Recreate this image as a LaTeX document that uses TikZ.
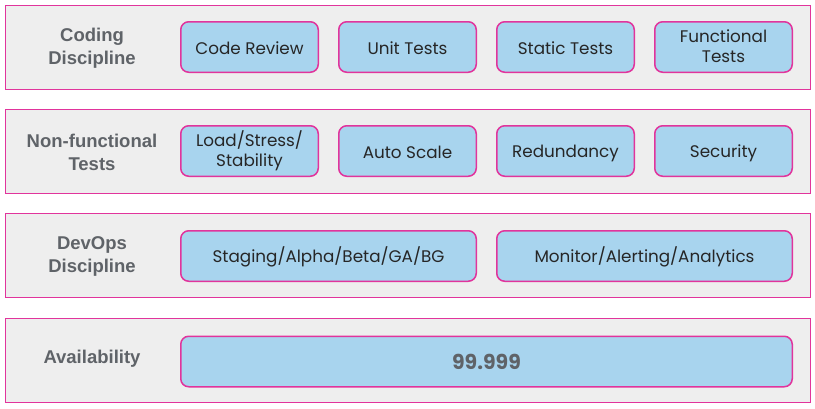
\documentclass[tikz,border=0pt]{standalone}
\usepackage{fontspec}
\setmainfont{Poppins}
\newfontfamily\labelfont{Liberation Sans}
\usepackage{tikz}
\usetikzlibrary{positioning}
\definecolor{rim}{RGB}{225,52,156}
\definecolor{panel}{RGB}{238,238,238}
\definecolor{chip}{RGB}{168,212,238}
\definecolor{ink}{RGB}{95,99,104}
\newcommand\chipstrut{\rule[-2.5pt]{0pt}{20pt}}

\tikzset{
  band/.style={draw=rim, line width=1.3pt, fill=panel, anchor=north west,
    minimum width=805pt, minimum height=84pt, inner sep=0pt},
  tag/.style={font=\labelfont\fontsize{18.5}{23}\selectfont\bfseries, text=ink,
    align=center},
  chip/.style={draw=rim, line width=1.5pt, fill=chip, rounded corners=8pt,
    minimum height=50.5pt, minimum width=137.5pt, align=center, inner sep=2pt,
    font=\fontsize{16.8}{20}\selectfont, text=black!85,
    execute at begin node=\chipstrut, execute at end node=\chipstrut},
}

\begin{document}
\begin{tikzpicture}[x=1pt, y=-1pt]
  \useasboundingbox (0,0) rectangle (815,408);

  % outer bands
  \node[band] (b1) at (5,5) {};
  \node[band] (b2) at (5,109) {};
  \node[band] (b3) at (5,213) {};
  \node[band] (b4) at (5,318) {};

  % row titles
  \node[tag] (t1) at (92,48.5) {Coding\\Discipline};
  \node[tag] (t2) at (92,152.5) {Non-functional\\Tests};
  \node[tag] (t3) at (92,256.5) {DevOps\\Discipline};
  \node[tag] (t4) at (92,359) {Availability};

  % coding discipline
  \node[chip] (cr) at (249.5,47) {Code Review};
  \node[chip, right=19pt of cr] (ut) {Unit Tests};
  \node[chip, right=19pt of ut] (st) {Static Tests};
  \node[chip, right=19pt of st] (ft) {Functional\\Tests};

  % non-functional tests
  \node[chip] (ls) at (249.5,151) {Load/Stress/\\Stability};
  \node[chip, right=19pt of ls] (as) {Auto Scale};
  \node[chip, right=19pt of as] (rd) {Redundancy};
  \node[chip, right=19pt of rd] (sc) {Security};

  % devops discipline
  \node[chip, minimum width=295.5pt] (sg) at (328.5,256) {Staging/Alpha/Beta/GA/BG};
  \node[chip, minimum width=295.5pt, right=19pt of sg] (mo) {Monitor/Alerting/Analytics};

  % availability
  \node[chip, minimum width=611.5pt, font=\fontsize{20.5}{24}\selectfont\bfseries,
        text=ink] (av) at (486.5,361.5) {99.999};
\end{tikzpicture}
\end{document}
